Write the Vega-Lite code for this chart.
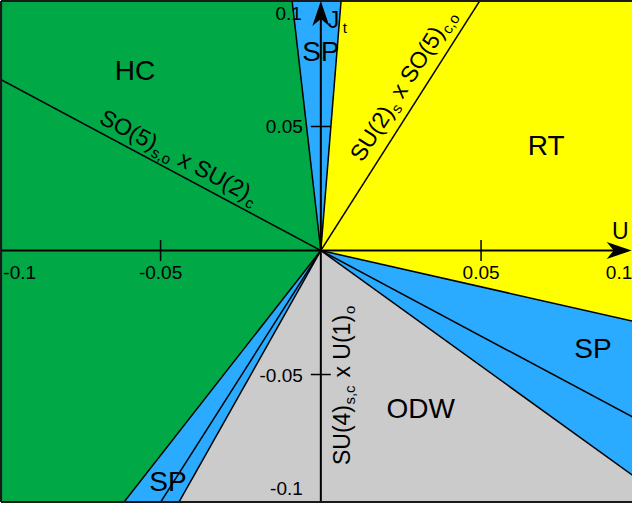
{
  "$schema": "https://vega.github.io/schema/vega-lite/v6.json",
  "width": 631,
  "height": 501,
  "autosize": {"type": "none"},
  "padding": {"left": 1, "top": 1, "right": 0, "bottom": 6},
  "background": "white",
  "config": {"view": {"fill": "#00a846", "stroke": null}, "text": {"font": "Liberation Sans", "color": "black"}},
  "datasets": {
    "yellow": [{"x": 0, "y": 0, "y2": 0}, {"x": 0.0069, "y": 0.11, "y2": -0.00203}, {"x": 0.11, "y": 0.11, "y2": -0.0322}],
    "spRight": [{"x": 0, "y": 0, "y2": 0}, {"x": 0.11, "y": -0.0322, "y2": -0.1025}],
    "gray": [{"x": -0.048, "y": -0.11, "y2": -0.11}, {"x": 0, "y": 0, "y2": -0.11}, {"x": 0.11, "y": -0.1025, "y2": -0.11}],
    "spBottom": [{"x": -0.0666, "y": -0.11, "y2": -0.11}, {"x": -0.048, "y": -0.0792, "y2": -0.11}, {"x": 0, "y": 0, "y2": 0}],
    "spTop": [{"y": 0, "x": 0, "x2": 0}, {"y": 0.11, "x": -0.0098, "x2": 0.0069}],
    "lines": [
      {"x": 0, "y": 0, "x2": -0.0098, "y2": 0.11},
      {"x": 0, "y": 0, "x2": 0.0069, "y2": 0.11},
      {"x": 0, "y": 0, "x2": 0.11, "y2": -0.0322},
      {"x": 0, "y": 0, "x2": 0.11, "y2": -0.1025},
      {"x": 0, "y": 0, "x2": -0.048, "y2": -0.11},
      {"x": 0, "y": 0, "x2": -0.0666, "y2": -0.11},
      {"x": -0.11, "y": 0.0759, "x2": 0.11, "y2": -0.0759},
      {"x": -0.0542, "y": -0.11, "x2": 0.0542, "y2": 0.11}
    ],
    "axes": [{"x": -0.0998, "y": 0, "x2": 0.092, "y2": 0}, {"x": 0, "y": -0.1014, "x2": 0, "y2": 0.095}],
    "frame": [
      {"x": -0.0998, "y": 0.1006, "x2": 0.0971, "y2": 0.1006},
      {"x": -0.0998, "y": -0.1014, "x2": 0.0971, "y2": -0.1014},
      {"x": -0.0998, "y": -0.1014, "x2": -0.0998, "y2": 0.1006}
    ],
    "xticks": [{"x": -0.05, "y": 0}, {"x": 0.05, "y": 0}],
    "yticks": [{"x": 0, "y": 0.05}, {"x": 0, "y": -0.05}],
    "arrowR": [{"x": 0.097, "y": 0}],
    "arrowU": [{"x": 0, "y": 0.1006}],
    "xlabMid": [{"x": -0.05, "y": 0, "text": "-0.05"}, {"x": 0.05, "y": 0, "text": "0.05"}],
    "xlabL": [{"x": -0.1, "y": 0, "text": "-0.1"}],
    "xlabR": [{"x": 0.1, "y": 0, "text": "0.1"}],
    "ylabMid": [{"x": 0, "y": 0.05, "text": "0.05"}, {"x": 0, "y": -0.05, "text": "-0.05"}],
    "ylabT": [{"x": 0, "y": 0.1, "text": "0.1"}],
    "ylabB": [{"x": 0, "y": -0.1, "text": "-0.1"}],
    "uLab": [{"x": 0.097, "y": 0, "text": "U"}],
    "jLab": [{"x": 0, "y": 0.1006, "text": "J"}],
    "tLab": [{"x": 0, "y": 0.1006, "text": "t"}],
    "regions": [
      {"x": -0.058, "y": 0.072, "text": "HC"},
      {"x": 0, "y": 0.0796, "text": "SP"},
      {"x": 0.0703, "y": 0.0417, "text": "RT"},
      {"x": 0.0849, "y": -0.0401, "text": "SP"},
      {"x": 0.0312, "y": -0.0643, "text": "ODW"},
      {"x": -0.0477, "y": -0.0938, "text": "SP"}
    ],
    "gA": [{"x": -0.0707, "y": 0.0488, "text": "SO(5)"}],
    "gB": [{"x": -0.0707, "y": 0.0488, "text": "s,o"}],
    "gC": [{"x": -0.0707, "y": 0.0488, "text": "x SU(2)"}],
    "gD": [{"x": -0.0707, "y": 0.0488, "text": "c"}],
    "yA": [{"x": 0.0161, "y": 0.0327, "text": "SU(2)"}],
    "yB": [{"x": 0.0161, "y": 0.0327, "text": "s"}],
    "yC": [{"x": 0.0161, "y": 0.0327, "text": "x SO(5)"}],
    "yD": [{"x": 0.0161, "y": 0.0327, "text": "c,o"}],
    "vA": [{"x": 0, "y": -0.0865, "text": "SU(4)"}],
    "vB": [{"x": 0, "y": -0.0865, "text": "s,c"}],
    "vC": [{"x": 0, "y": -0.0865, "text": "x U(1)"}],
    "vD": [{"x": 0, "y": -0.0865, "text": "o"}]
  },
  "encoding": {
    "x": {"field": "x", "type": "quantitative", "scale": {"domain": [-0.0998, 0.0971], "nice": false, "zero": false}, "axis": null},
    "y": {"field": "y", "type": "quantitative", "scale": {"domain": [-0.1014, 0.1006], "nice": false, "zero": false}, "axis": null}
  },
  "layer": [
    {"data": {"name": "yellow"}, "mark": {"type": "area", "color": "#ffff00", "clip": true, "orient": "vertical"}, "encoding": {"y2": {"field": "y2"}}},
    {"data": {"name": "spRight"}, "mark": {"type": "area", "color": "#2aabff", "clip": true, "orient": "vertical"}, "encoding": {"y2": {"field": "y2"}}},
    {"data": {"name": "gray"}, "mark": {"type": "area", "color": "#cbcbcb", "clip": true, "orient": "vertical"}, "encoding": {"y2": {"field": "y2"}}},
    {"data": {"name": "spBottom"}, "mark": {"type": "area", "color": "#2aabff", "clip": true, "orient": "vertical"}, "encoding": {"y2": {"field": "y2"}}},
    {"data": {"name": "spTop"}, "mark": {"type": "area", "color": "#2aabff", "clip": true, "orient": "horizontal"}, "encoding": {"x2": {"field": "x2"}}},
    {"data": {"name": "lines"}, "mark": {"type": "rule", "color": "black", "strokeWidth": 1.5, "clip": true}, "encoding": {"x2": {"field": "x2"}, "y2": {"field": "y2"}}},
    {"data": {"name": "axes"}, "mark": {"type": "rule", "color": "black", "strokeWidth": 2}, "encoding": {"x2": {"field": "x2"}, "y2": {"field": "y2"}}},
    {"data": {"name": "frame"}, "mark": {"type": "rule", "color": "#1a1a1a", "strokeWidth": 2.2}, "encoding": {"x2": {"field": "x2"}, "y2": {"field": "y2"}}},
    {"data": {"name": "xticks"}, "mark": {"type": "tick", "orient": "vertical", "color": "black", "size": 21, "thickness": 1.5, "opacity": 1}},
    {"data": {"name": "yticks"}, "mark": {"type": "tick", "orient": "horizontal", "color": "black", "size": 20, "thickness": 1.5, "opacity": 1}},
    {"data": {"name": "arrowR"}, "mark": {"type": "point", "shape": "M0,0L-5,-1.7L-3.6,0L-5,1.7Z", "size": 100, "filled": true, "color": "black", "opacity": 1, "strokeWidth": 0}},
    {"data": {"name": "arrowU"}, "mark": {"type": "point", "shape": "M0,0L-1.7,5L0,3.6L1.7,5Z", "size": 100, "filled": true, "color": "black", "opacity": 1, "strokeWidth": 0}},
    {"data": {"name": "xlabMid"}, "mark": {"type": "text", "fontSize": 19, "align": "center", "baseline": "alphabetic", "dy": 28}, "encoding": {"text": {"field": "text"}}},
    {"data": {"name": "xlabL"}, "mark": {"type": "text", "fontSize": 19, "align": "left", "baseline": "alphabetic", "dx": 3, "dy": 28}, "encoding": {"text": {"field": "text"}}},
    {"data": {"name": "xlabR"}, "mark": {"type": "text", "fontSize": 19, "align": "right", "baseline": "alphabetic", "dx": -9, "dy": 28}, "encoding": {"text": {"field": "text"}}},
    {"data": {"name": "ylabMid"}, "mark": {"type": "text", "fontSize": 19, "align": "right", "baseline": "alphabetic", "dx": -18, "dy": 7}, "encoding": {"text": {"field": "text"}}},
    {"data": {"name": "ylabT"}, "mark": {"type": "text", "fontSize": 19, "align": "right", "baseline": "alphabetic", "dx": -19, "dy": 18}, "encoding": {"text": {"field": "text"}}},
    {"data": {"name": "ylabB"}, "mark": {"type": "text", "fontSize": 19, "align": "right", "baseline": "alphabetic", "dx": -18, "dy": -4}, "encoding": {"text": {"field": "text"}}},
    {"data": {"name": "uLab"}, "mark": {"type": "text", "fontSize": 23, "align": "right", "baseline": "alphabetic", "dx": -3, "dy": -12}, "encoding": {"text": {"field": "text"}}},
    {"data": {"name": "jLab"}, "mark": {"type": "text", "fontSize": 23, "align": "left", "baseline": "alphabetic", "dx": 7, "dy": 27}, "encoding": {"text": {"field": "text"}}},
    {"data": {"name": "tLab"}, "mark": {"type": "text", "fontSize": 15, "align": "left", "baseline": "alphabetic", "dx": 22, "dy": 32}, "encoding": {"text": {"field": "text"}}},
    {"data": {"name": "regions"}, "mark": {"type": "text", "fontSize": 28, "align": "center", "baseline": "middle"}, "encoding": {"text": {"field": "text"}}},
    {"data": {"name": "gA"}, "mark": {"type": "text", "fontSize": 23, "align": "left", "baseline": "alphabetic", "angle": 28, "dx": 0, "dy": -8}, "encoding": {"text": {"field": "text"}}},
    {"data": {"name": "gB"}, "mark": {"type": "text", "fontSize": 15, "align": "left", "baseline": "alphabetic", "angle": 28, "dx": 61.5, "dy": -3}, "encoding": {"text": {"field": "text"}}},
    {"data": {"name": "gC"}, "mark": {"type": "text", "fontSize": 23, "align": "left", "baseline": "alphabetic", "angle": 28, "dx": 89, "dy": -8}, "encoding": {"text": {"field": "text"}}},
    {"data": {"name": "gD"}, "mark": {"type": "text", "fontSize": 15, "align": "left", "baseline": "alphabetic", "angle": 28, "dx": 168, "dy": -3}, "encoding": {"text": {"field": "text"}}},
    {"data": {"name": "yA"}, "mark": {"type": "text", "fontSize": 23, "align": "left", "baseline": "alphabetic", "angle": -57.5, "dx": 0, "dy": -12}, "encoding": {"text": {"field": "text"}}},
    {"data": {"name": "yB"}, "mark": {"type": "text", "fontSize": 15, "align": "left", "baseline": "alphabetic", "angle": -57.5, "dx": 60.5, "dy": -7}, "encoding": {"text": {"field": "text"}}},
    {"data": {"name": "yC"}, "mark": {"type": "text", "fontSize": 23, "align": "left", "baseline": "alphabetic", "angle": -57.5, "dx": 75, "dy": -12}, "encoding": {"text": {"field": "text"}}},
    {"data": {"name": "yD"}, "mark": {"type": "text", "fontSize": 15, "align": "left", "baseline": "alphabetic", "angle": -57.5, "dx": 155, "dy": -7}, "encoding": {"text": {"field": "text"}}},
    {"data": {"name": "vA"}, "mark": {"type": "text", "fontSize": 23, "align": "left", "baseline": "alphabetic", "angle": -90, "dx": 0, "dy": 29}, "encoding": {"text": {"field": "text"}}},
    {"data": {"name": "vB"}, "mark": {"type": "text", "fontSize": 15, "align": "left", "baseline": "alphabetic", "angle": -90, "dx": 60.5, "dy": 34}, "encoding": {"text": {"field": "text"}}},
    {"data": {"name": "vC"}, "mark": {"type": "text", "fontSize": 23, "align": "left", "baseline": "alphabetic", "angle": -90, "dx": 87.5, "dy": 29}, "encoding": {"text": {"field": "text"}}},
    {"data": {"name": "vD"}, "mark": {"type": "text", "fontSize": 15, "align": "left", "baseline": "alphabetic", "angle": -90, "dx": 151, "dy": 34}, "encoding": {"text": {"field": "text"}}}
  ]
}
